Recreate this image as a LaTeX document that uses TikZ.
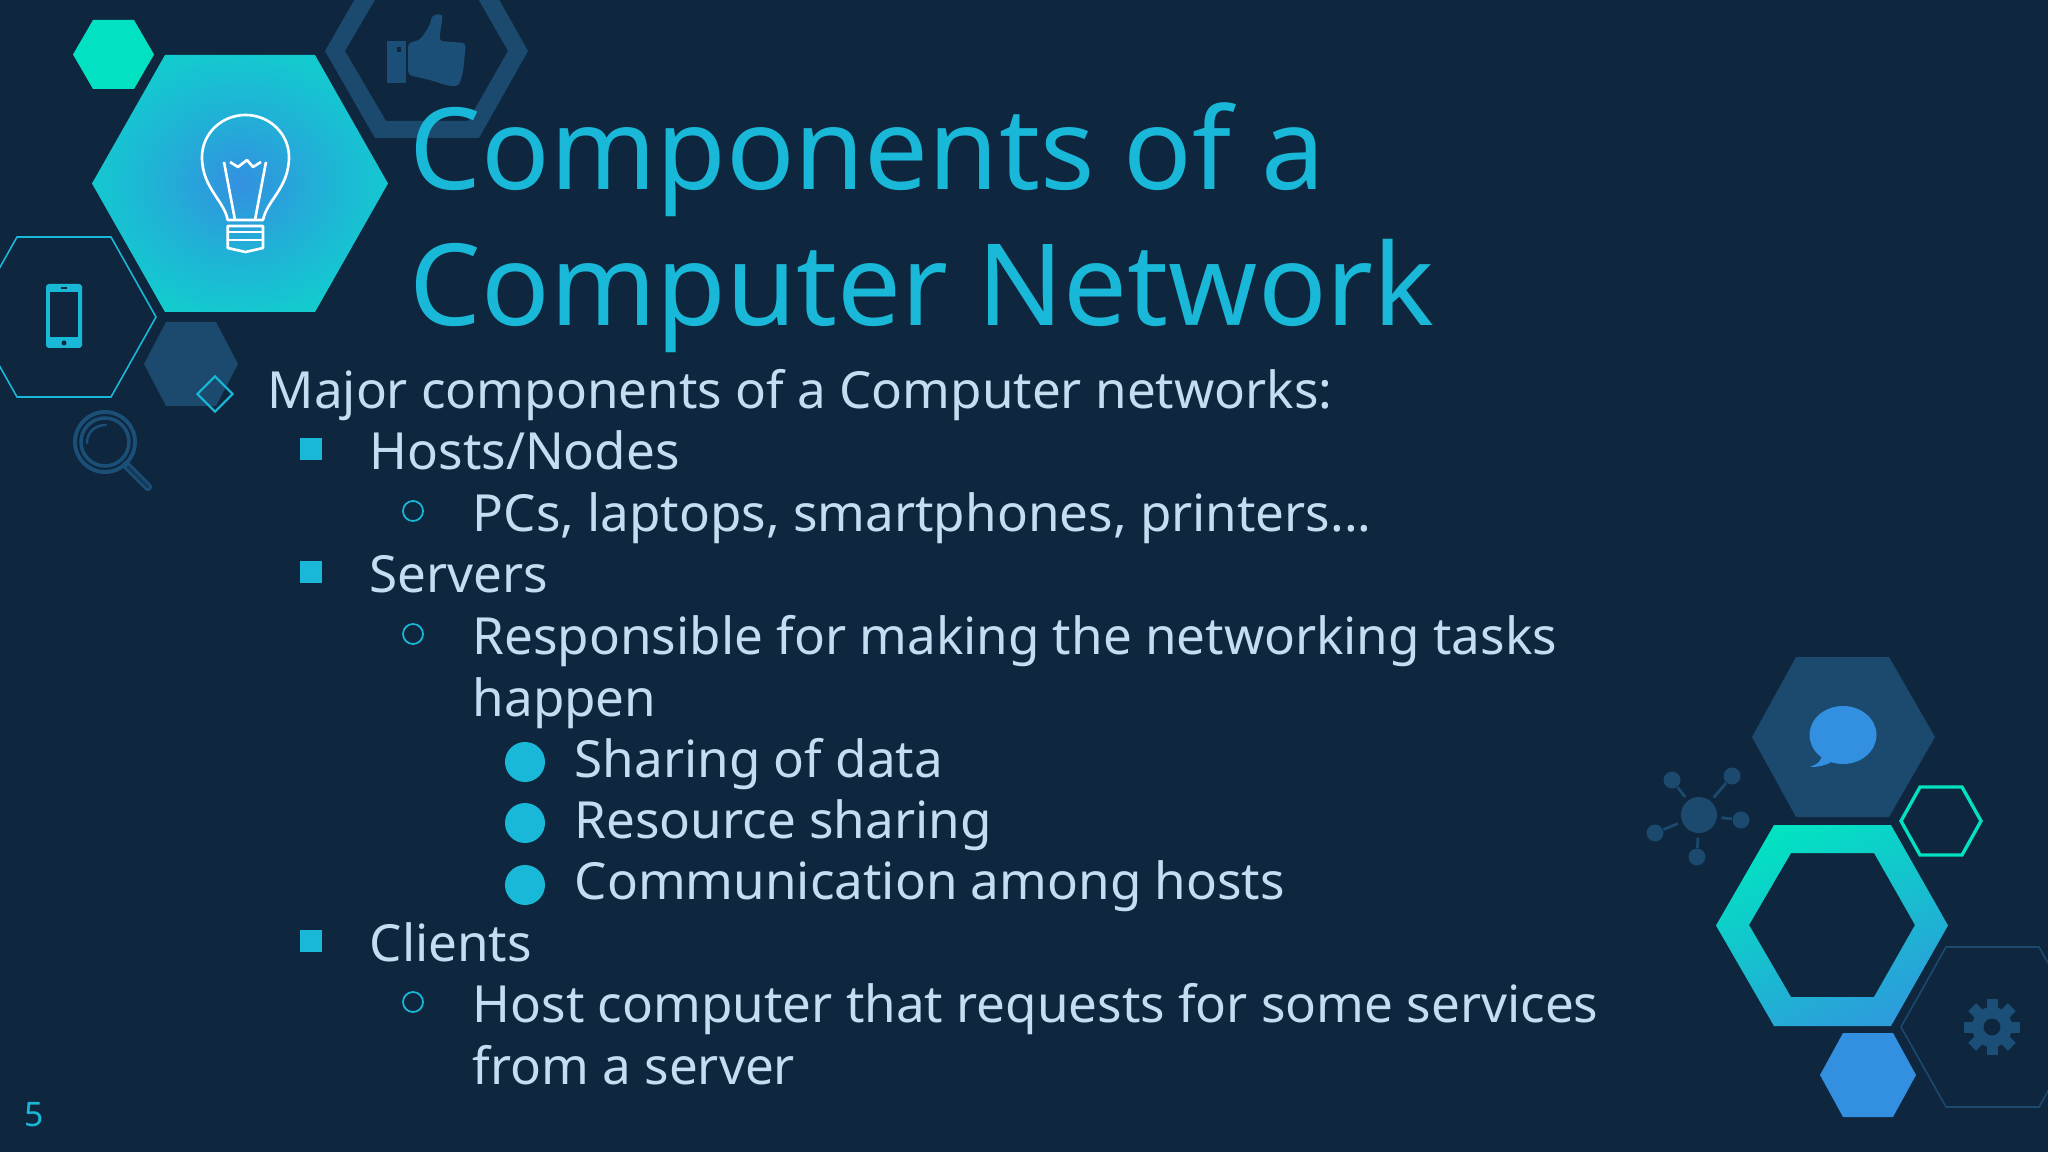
\documentclass[tikz,border=0pt]{standalone}
\usepackage{fontspec}
\setmainfont{Noto Sans}
\usetikzlibrary{shapes.geometric,positioning}
\definecolor{slidebg}{HTML}{0E273E}
\definecolor{hexdark}{HTML}{1B4A6E}
\definecolor{hexicon}{HTML}{1C4F78}
\definecolor{hexcyan}{HTML}{1AB8D8}
\definecolor{hexgreen}{HTML}{02E2C2}
\definecolor{hexmid}{HTML}{14C8D0}
\definecolor{hexsoft}{HTML}{20B2D6}
\definecolor{hexedge}{HTML}{0FD8C8}
\definecolor{hexblue}{HTML}{3390E0}
\definecolor{bodyblue}{HTML}{C6DCF0}
\pgfdeclareradialshading{bulbglow}{\pgfpoint{0bp}{0bp}}{color(0bp)=(hexblue); color(14bp)=(hexsoft); color(25bp)=(hexmid); color(36bp)=(hexedge); color(50bp)=(hexgreen)}
\newcommand{\hexpath}[6]{(#1,{(#5+#6)/2}) -- (#2,#5) -- (#3,#5) -- (#4,{(#5+#6)/2}) -- (#3,#6) -- (#2,#6) -- cycle}
\tikzset
{
    titletext/.style = {anchor=base west, inner sep=0pt, text=hexcyan, font=\fontsize{32.28pt}{39pt}\selectfont},
    bodytext/.style = {anchor=base west, inner sep=0pt, text=bodyblue, font=\fontsize{14.55pt}{18pt}\selectfont},
    pagetext/.style = {anchor=base west, inner sep=0pt, text=hexcyan, font=\fontsize{9.6pt}{11pt}\selectfont},
    squarebullet/.style = {rectangle, fill=hexcyan, inner sep=0pt, minimum size=0.225cm},
    ringbullet/.style = {circle, draw=hexcyan, line width=0.5pt, inner sep=0pt, minimum size=0.2cm},
    discbullet/.style = {circle, fill=hexcyan, inner sep=0pt, minimum size=0.4cm},
    diamondbullet/.style = {diamond, draw=hexcyan, line width=0.6pt, inner sep=0pt, minimum size=0.36cm},
    netnode/.style = {circle, fill=hexdark, inner sep=0pt, minimum size=0.17cm},
    netlink/.style = {draw=hexdark, line width=0.8pt, shorten <=0.04cm},
    bulbline/.style = {white, line width=0.75pt, line join=round}
}
\begin{document}
\begin{tikzpicture}[x=0.01cm, y=-0.01cm]
\useasboundingbox (0,0) rectangle (2048,1152);
\fill[slidebg] (0,0) rectangle (2048,1152);

\fill[hexdark, even odd rule] \hexpath{325}{375}{479}{528}{-36}{138} \hexpath{345}{386}{468}{508}{-19}{121};
\fill[hexicon] (387,41) rectangle (406,83);
\fill[slidebg] (397,47) rectangle (401,52);
\fill[hexicon, rounded corners=0.04cm] (408,43) -- (420,40) -- (430,25) -- (432,15) -- (443,14) -- (439,41) -- (466,43) -- (463,72) -- (459,86) -- (449,86) -- (430,80) -- (408,75) -- cycle;

\fill[hexgreen] \hexpath{73}{93}{134}{154}{20}{89};
\shade[shading=bulbglow] \hexpath{92}{165}{315}{388}{55}{312};
\draw[bulbline] (227.7,220) .. controls (224,200) and (202,188) .. (202,157) arc[start angle=180, end angle=0, x radius=43.5, y radius=-42] .. controls (289,188) and (267,200) .. (263,220) -- cycle;
\draw[bulbline] (227.7,226) -- (263,226) -- (263,248) -- (245.5,252) -- (227.7,248) -- cycle;
\draw[bulbline] (227.7,232) -- (263,232) (227.7,240) -- (263,240);
\draw[bulbline] (224,162) -- (235,220) (266,162) -- (255,220) (230,162) -- (238,167) -- (247,160) -- (253,167) -- (261,162);

\draw[hexcyan, line width=0.45pt] \hexpath{-28}{17}{111}{156}{237}{397};
\fill[hexcyan, rounded corners=0.03cm] (46,284) rectangle (82,348);
\fill[slidebg] (50,292) rectangle (78,337);
\fill[slidebg] (61,287.5) rectangle (67,289);
\fill[slidebg] (64,343) circle[radius=2.5];
\fill[hexdark] \hexpath{144}{166}{216}{238}{322}{406};

\draw[hexicon, line width=1.1pt] (105,442) circle[radius=30];
\draw[hexicon, line width=1pt] (105,442) circle[radius=24];
\draw[hexicon, line width=0.7pt, line cap=round] (87,443) .. controls (87,432) and (95,425) .. (106,425);
\draw[hexicon, line width=2.3pt, line cap=round] (126,465) -- (148,487);
\draw[slidebg!50!hexicon, line width=1pt, line cap=round] (128,467) -- (148,487);

\fill[hexdark] \hexpath{1752}{1796}{1889}{1935}{657}{817};
\fill[hexblue] (1843,735) ellipse[x radius=33.5, y radius=29];
\fill[hexblue] (1822,752) .. controls (1823,760) and (1818,764) .. (1810,767) .. controls (1822,767) and (1830,764) .. (1837,758) -- cycle;
\draw[hexgreen, line width=0.95pt] \hexpath{1901}{1920}{1962}{1981}{787}{855};
\shade[even odd rule, top color=hexgreen, bottom color=hexblue!85!hexgreen, shading angle=25] \hexpath{1716}{1774}{1891}{1948}{825}{1026} \hexpath{1749}{1791}{1874}{1915}{853}{997};
\fill[hexblue] \hexpath{1820}{1843}{1893}{1916}{1033}{1117};
\draw[hexdark, line width=0.45pt] \hexpath{1901}{1946}{2039}{2084}{947}{1107};

\foreach \a in {0,45,...,315}
	\fill[hexicon, rotate around={\a:(1992,1027)}] (1986.5,999) rectangle (1997.5,1015);
\fill[hexicon] (1992,1027) circle[radius=20];
\fill[slidebg] (1992,1027) circle[radius=8.5];

\node[circle, fill=hexdark, inner sep=0pt, minimum size=0.36cm] (nethub) at (1699,815) {};
\node[netnode] (netnw) at (1672,780) {};
\node[netnode] (netne) at (1732,776) {};
\node[netnode] (nete) at (1741,820) {};
\node[netnode] (nets) at (1697,857) {};
\node[netnode] (netsw) at (1655,833) {};
\foreach \n in {netnw,netne,nete,nets,netsw}
	\draw[netlink] (nethub) -- (\n);

\node[titletext] (titleone) at (409,190) {Components of a};
\node[titletext] (titletwo) at (409,326) {Computer Network};

\node[diamondbullet] (bulletmajor) at (215,394) {};
\node[bodytext] (major) at (267,409) {Major components of a Computer networks:};
\node[squarebullet] (bullethosts) at (311,449) {};
\node[bodytext] (hosts) at (369,470) {Hosts/Nodes};
\node[ringbullet] (bulletpcs) at (413,511) {};
\node[bodytext] (pcs) at (472,532) {PCs, laptops, smartphones, printers...};
\node[squarebullet] (bulletservers) at (311,572) {};
\node[bodytext] (servers) at (369,593) {Servers};
\node[ringbullet] (bulletresp) at (413,634) {};
\node[bodytext] (resp) at (472,654) {Responsible for making the networking tasks};
\node[bodytext] (happen) at (472,716) {happen};
\node[discbullet] (bulletsharing) at (525,762) {};
\node[bodytext] (sharing) at (574,777) {Sharing of data};
\node[discbullet] (bulletresource) at (525,823) {};
\node[bodytext] (resource) at (574,838) {Resource sharing};
\node[discbullet] (bulletcomm) at (525,885) {};
\node[bodytext] (comm) at (574,899) {Communication among hosts};
\node[squarebullet] (bulletclients) at (311,941) {};
\node[bodytext] (clients) at (369,961) {Clients};
\node[ringbullet] (bullethost) at (413,1002) {};
\node[bodytext] (host) at (472,1022) {Host computer that requests for some services};
\node[bodytext] (server) at (472,1084) {from a server};

\node[pagetext] (pagenum) at (24,1126) {5};
\end{tikzpicture}
\end{document}
